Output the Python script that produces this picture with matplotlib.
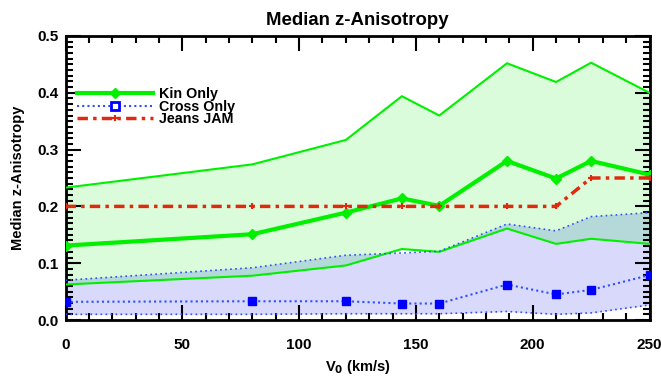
import numpy as np
import matplotlib
matplotlib.use("Agg")
import matplotlib.pyplot as plt
from matplotlib.ticker import MultipleLocator, FormatStrFormatter

# Circular velocity grid (km/s)
v0 = [0, 80, 120, 144, 160, 189, 210, 225, 250]

# Kinematics-only fits: median and band limits
kin_med = [0.131, 0.151, 0.189, 0.214, 0.201, 0.280, 0.249, 0.280, 0.256]
kin_hi = [0.233, 0.274, 0.317, 0.394, 0.360, 0.452, 0.419, 0.453, 0.400]
kin_lo = [0.0625, 0.078, 0.096, 0.125, 0.120, 0.161, 0.134, 0.143, 0.134]

# Cross-correlation-only fits: median and band limits
cross_med = [0.032, 0.033, 0.033, 0.029, 0.029, 0.0625, 0.045, 0.053, 0.079]
cross_hi = [0.070, 0.092, 0.114, 0.118, 0.121, 0.169, 0.157, 0.182, 0.189]
cross_lo = [0.010, 0.010, 0.011, 0.011, 0.011, 0.015, 0.010, 0.0125, 0.0265]

# Jeans anisotropic model
jam = [0.2, 0.2, 0.2, 0.2, 0.2, 0.2, 0.2, 0.25, 0.25]

plt.rcParams['font.family'] = ['Liberation Sans', 'DejaVu Sans']
plt.rcParams['font.weight'] = 'bold'

W, H = 661, 379
fig = plt.figure(figsize=(W / 100, H / 100), dpi=100)
ax = fig.add_axes([65.5 / W, 1 - 320 / H, (649.5 - 65.5) / W, (320 - 36) / H])

x = np.array(v0, dtype=float)
klo, khi = np.array(kin_lo), np.array(kin_hi)
clo, chi = np.array(cross_lo), np.array(cross_hi)

green_fill = '#dafcda'
blue_fill = '#d9d9fc'
overlap_fill = '#b5d8d8'

ax.fill_between(x, klo, khi, color=green_fill, lw=0, zorder=1)
ax.fill_between(x, clo, chi, color=blue_fill, lw=0, zorder=1)
ob = np.maximum(klo, clo)
ot = np.minimum(khi, chi)
ax.fill_between(x, ob, ot, where=ot > ob, interpolate=True,
                color=overlap_fill, lw=0, zorder=1.5)

green = '#00f000'
blue = '#3050ff'
red = '#e02a10'

# band edges
ax.plot(x, khi, color=green, lw=1.5, zorder=3)
ax.plot(x, klo, color=green, lw=1.5, zorder=3)
ax.plot(x, chi, color=blue, lw=1.2, ls=(0, (1, 2)), zorder=3)
ax.plot(x, clo, color=blue, lw=1.2, ls=(0, (1, 2)), zorder=3)

# medians
ax.plot(x, kin_med, color=green, lw=3.0, marker='D', ms=5,
        mec=green, mfc=green, zorder=4, label='Kin Only')
ax.plot(x, cross_med, color=blue, lw=1.5, ls=(0, (1, 1.5)), marker='s', ms=6,
        mec='#0000ff', mfc='#0000ff', zorder=4, label='Cross Only')
ax.plot(x, jam, color=red, lw=2.5, ls=(0, (3, 1.5, 1, 1.5)), marker='+', ms=4,
        mew=1.5, zorder=4, label='Jeans JAM')

ax.set_xlim(0, 250)
ax.set_ylim(0, 0.5)
ax.xaxis.set_major_locator(MultipleLocator(50))
ax.xaxis.set_minor_locator(MultipleLocator(10))
ax.yaxis.set_major_locator(MultipleLocator(0.1))
ax.yaxis.set_minor_locator(MultipleLocator(0.01))
ax.yaxis.set_major_formatter(FormatStrFormatter('%.1f'))

ax.tick_params(which='both', direction='in', top=True, right=True,
               width=1.5, colors='black', labelsize=11)
ax.tick_params(which='major', length=11, pad=13)
ax.tick_params(which='minor', length=5)
ax.tick_params(axis='y', which='major', pad=5)
for s in ax.spines.values():
    s.set_linewidth(2)

ax.set_title('Median z-Anisotropy', fontsize=13.4, fontweight='bold', pad=8)
ax.set_xlabel(r'V$_\mathbf{0}$ (km/s)', fontsize=10.5, fontweight='bold', labelpad=4)
ax.set_ylabel('Median z-Anisotropy', fontsize=10.5, fontweight='bold', labelpad=9)

# legend, with an open square for Cross Only
handles, labels = ax.get_legend_handles_labels()
leg = ax.legend(handles, labels, loc='upper left', bbox_to_anchor=(0.005, 0.85),
                frameon=False, fontsize=10.3, handlelength=5.3, handletextpad=0.4,
                labelspacing=-0.1, borderpad=0.3, borderaxespad=0.3)
leg.legend_handles[1].set_markerfacecolor('white')
leg.legend_handles[1].set_markeredgewidth(2)

fig.savefig('out.png', dpi=100)
